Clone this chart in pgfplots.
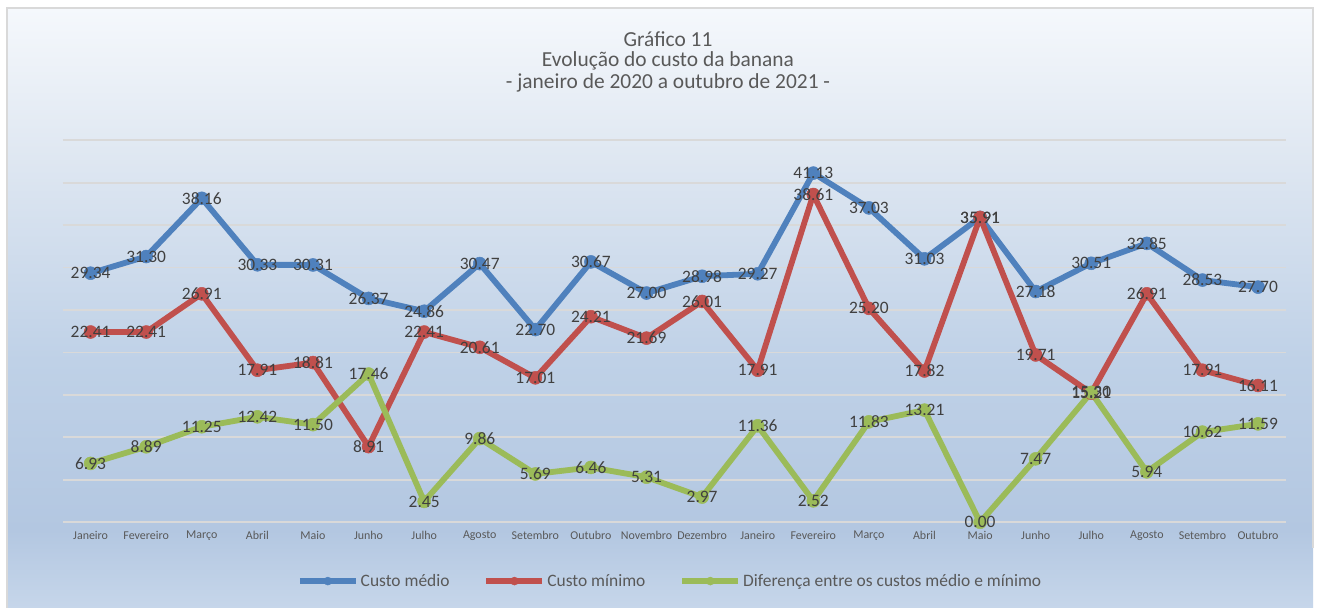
\documentclass[border=0pt]{standalone}
\usepackage{pgfplots}
\pgfplotsset{compat=1.18}
\usepackage{pgfplotstable}
\usepackage{fontspec}
\setmainfont{Carlito}

\definecolor{cblue}{HTML}{4F81BD}
\definecolor{cred}{HTML}{C0504D}
\definecolor{cgreen}{HTML}{9BBB59}
\definecolor{txt}{HTML}{404040}
\definecolor{txtg}{HTML}{595959}
\definecolor{gridc}{HTML}{D9D9D9}
\definecolor{bgA}{HTML}{F5F8FC}
\definecolor{bgB}{HTML}{E0E8F2}
\definecolor{bgC}{HTML}{BFD1E7}
\definecolor{bgD}{HTML}{B3C7E1}
\definecolor{bgE}{HTML}{C6D6EA}

\pgfdeclareverticalshading{bgshade}{100bp}{color(0bp)=(bgE); color(25bp)=(bgE); color(31.5bp)=(bgD); color(45.7bp)=(bgC); color(63.2bp)=(bgB); color(75bp)=(bgA); color(100bp)=(bgA)}

\pgfplotstableread{
x medio minimo dif
0 29.34 22.41 6.93
1 31.30 22.41 8.89
2 38.16 26.91 11.25
3 30.33 17.91 12.42
4 30.31 18.81 11.50
5 26.37 8.91 17.46
6 24.86 22.41 2.45
7 30.47 20.61 9.86
8 22.70 17.01 5.69
9 30.67 24.21 6.46
10 27.00 21.69 5.31
11 28.98 26.01 2.97
12 29.27 17.91 11.36
13 41.13 38.61 2.52
14 37.03 25.20 11.83
15 31.03 17.82 13.21
16 35.91 35.91 0.00
17 27.18 19.71 7.47
18 30.51 15.21 15.30
19 32.85 26.91 5.94
20 28.53 17.91 10.62
21 27.70 16.11 11.59
}\data

\begin{document}
\begin{tikzpicture}[x=1bp,y=1bp]
\path[use as bounding box] (0,0) rectangle (1319,608);
\fill[white] (0,0) rectangle (1319,608);
\shade[shading=bgshade] (7,0) rectangle (1313,600);
\draw[gridc, line width=1.5bp] (7,0) -- (7,600) -- (1313,600) -- (1313,60);

\node[font=\fontsize{21.5}{24}\selectfont, text=txtg] at (668,569) {Gráfico 11};
\node[font=\fontsize{21.5}{24}\selectfont, text=txtg] at (668,547) {Evolução do custo da banana};
\node[font=\fontsize{21.5}{24}\selectfont, text=txtg] at (668,525) {- janeiro de 2020 a outubro de 2021 -};

\begin{axis}[
  at={(113,101)}, anchor=south west, scale only axis,
  width=1223bp, height=382bp,
  xmin=-0.5, xmax=21.5, ymin=0, ymax=45,
  axis line style={draw=none},
  major tick length=0pt,
  ytick={0,5,...,45}, yticklabels={},
  ymajorgrids, grid style={gridc, line width=1.8bp},
  xtick={0,...,21},
  xticklabels={Janeiro,Fevereiro,Março,Abril,Maio,Junho,Julho,Agosto,Setembro,Outubro,Novembro,Dezembro,Janeiro,Fevereiro,Março,Abril,Maio,Junho,Julho,Agosto,Setembro,Outubro},
  xticklabel style={font=\fontsize{12}{14}\selectfont, text=txtg, yshift=-5bp},
  clip=false,
  /pgf/number format/.cd, fixed, fixed zerofill, precision=2, assume math mode=true,
  /pgfplots/.cd,
  legend style={at={(0.4965,-0.154)}, anchor=center, draw=none, fill=none,
    font=\fontsize{17.5}{20}\selectfont, text=txtg,
    /tikz/every even column/.append style={column sep=32bp}},
  legend columns=3,
  legend image code/.code={
    \draw[#1, mark=none] (0bp,0bp) -- (56bp,0bp);
    \draw[#1, mark size=4bp] plot coordinates {(28bp,0bp)};
  },
  every axis plot/.append style={line width=5.8bp, line join=round},
  every node near coord/.append style={anchor=center, font=\fontsize{17.5}{20}\selectfont, text=txt},
]
\addplot[cblue, mark=*, mark size=6.5bp, mark options={fill=cblue, draw=cblue, line width=0.5bp}] table[x=x, y=medio]{\data};
\addlegendentry{Custo médio}
\addplot[cred, mark=*, mark size=6.5bp, mark options={fill=cred, draw=cred, line width=0.5bp}] table[x=x, y=minimo]{\data};
\addlegendentry{Custo mínimo}
\addplot[cgreen, mark=*, mark size=6.5bp, mark options={fill=cgreen, draw=cgreen, line width=0.5bp}] table[x=x, y=dif]{\data};
\addlegendentry{Diferença entre os custos médio e mínimo}

\addplot[draw=none, mark=none, forget plot, nodes near coords] table[x=x, y=medio]{\data};
\addplot[draw=none, mark=none, forget plot, nodes near coords] table[x=x, y=minimo]{\data};
\addplot[draw=none, mark=none, forget plot, nodes near coords] table[x=x, y=dif]{\data};
\end{axis}
\end{tikzpicture}
\end{document}
